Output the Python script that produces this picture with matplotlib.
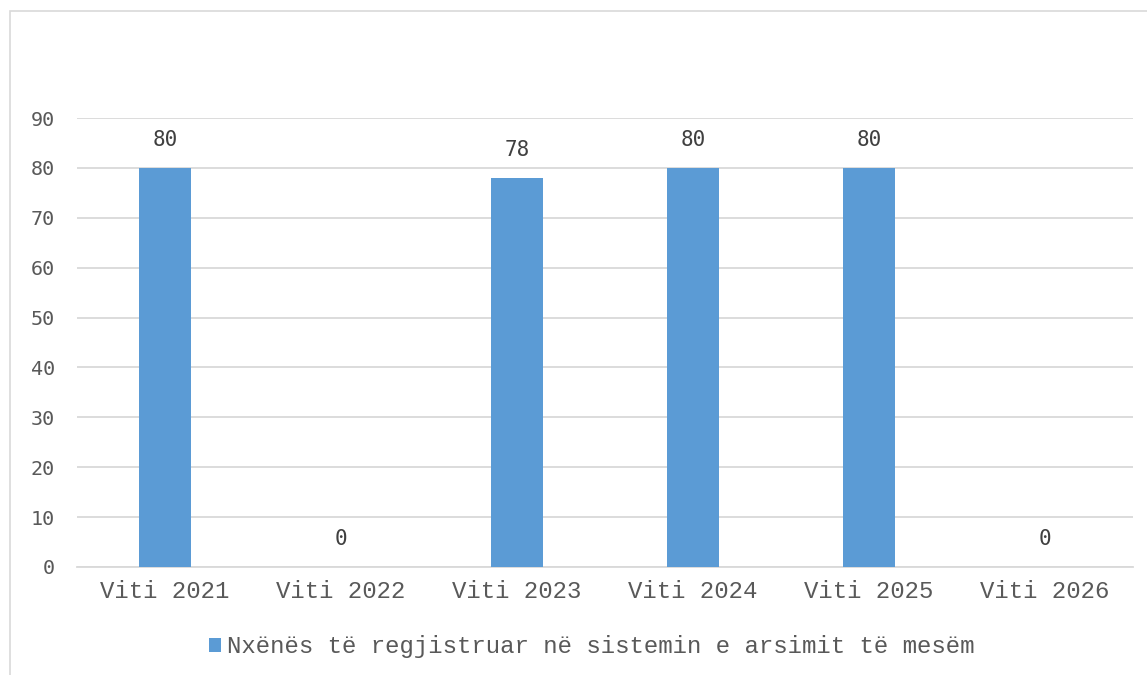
import matplotlib.pyplot as plt
from matplotlib.patches import Rectangle

categories = ['Viti 2021', 'Viti 2022', 'Viti 2023', 'Viti 2024', 'Viti 2025', 'Viti 2026']
values = [80, 0, 78, 80, 80, 0]
series_name = 'Nxënës të regjistruar në sistemin e arsimit të mesëm'
yticks = [0, 10, 20, 30, 40, 50, 60, 70, 80, 90]

W, H = 1147, 675
fig = plt.figure(figsize=(W / 100, H / 100), dpi=100)

# chart border like the excel frame
fig.patches.append(Rectangle((10 / W, -0.05), 1.1, 1 - 11 / H + 0.05,
                             transform=fig.transFigure, fill=False,
                             edgecolor='#d9d9d9', linewidth=1.2))

ax = fig.add_axes([77 / W, 1 - 567 / H, (1133 - 77) / W, (567 - 118) / H])
x = range(len(categories))
bars = ax.bar(x, values, width=0.3, color='#5b9bd5', zorder=3, label=series_name)

ax.set_xlim(-0.5, len(categories) - 0.5)
ax.set_ylim(0, 90)
ax.set_yticks(yticks)
ax.set_xticks(list(x))
ax.set_xticklabels(categories, family='Liberation Mono', fontsize=17.3, color='#595959')
ax.set_yticklabels([str(v) for v in yticks], family='DejaVu Sans Mono', fontsize=14.5, color='#595959')
ax.tick_params(length=0)
ax.tick_params(axis='x', pad=9)
ax.tick_params(axis='y', pad=16)

ax.grid(axis='y', color='#d9d9d9', linewidth=1.3, zorder=0)
for s in ['top', 'right', 'left']:
    ax.spines[s].set_visible(False)
ax.spines['bottom'].set_color('#d9d9d9')
ax.spines['bottom'].set_linewidth(1.3)

for xi, v in zip(x, values):
    ax.annotate(str(v), (xi, v), xytext=(0, 20), textcoords='offset points',
                ha='center', va='center', family='DejaVu Sans Mono',
                fontsize=15, color='#404040')

leg = fig.legend(handles=[bars], labels=[series_name], loc='center',
                 bbox_to_anchor=(592 / W, 1 - 647 / H), frameon=False,
                 handlelength=0.5, handleheight=0.5, handletextpad=0.25,
                 prop={'family': 'Liberation Mono', 'size': 17.3})
for t in leg.get_texts():
    t.set_color('#595959')

fig.savefig('out.png', dpi=100)
